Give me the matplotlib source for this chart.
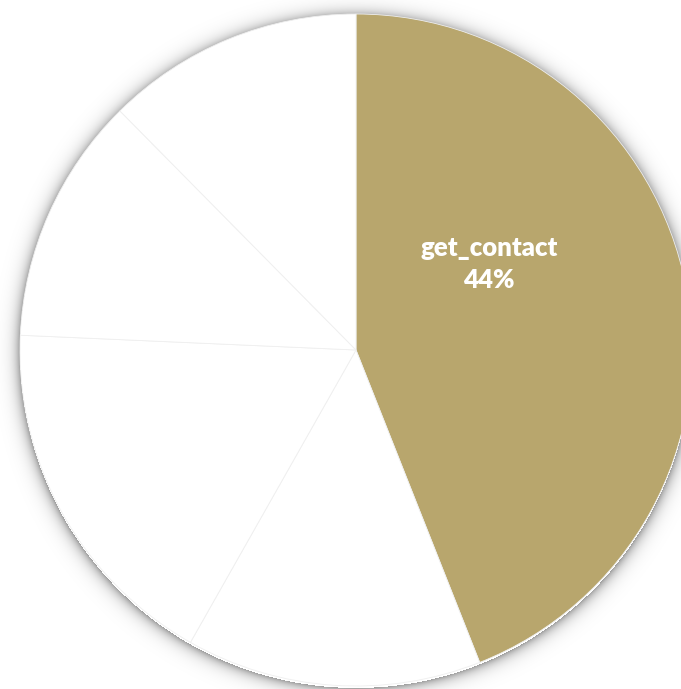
import numpy as np
import matplotlib.pyplot as plt

# share of each slice, clockwise from 12 o'clock
slices = ["get_contact", "part_2", "part_3", "part_4", "part_5"]
shares = [44.0, 14.2, 17.5, 11.9, 12.4]
colors = ["#B8A66D", "white", "white", "white", "white"]

W, H = 681, 689
cx, cy, r = 356, 339, 336

fig = plt.figure(figsize=(W / 100, H / 100), dpi=100)
ax = fig.add_axes([0, 0, 1, 1])
ax.set_xlim(0, W)
ax.set_ylim(0, H)
ax.axis("off")

# soft shadow round the pie
yy, xx = np.mgrid[0:H, 0:W]
d = np.hypot(xx + 0.5 - cx, yy + 0.5 - (cy - 2)) - r
alpha = np.where(d > 0, 0.38 * np.exp(-d / 6.0), 0)
shadow = np.zeros((H, W, 4))
shadow[..., 3] = alpha
ax.imshow(shadow, extent=(0, W, 0, H), origin="lower", zorder=0)

wedges, _ = ax.pie(shares, colors=colors, startangle=90, counterclock=False,
                   center=(cx, cy), radius=r, frame=True,
                   wedgeprops=dict(edgecolor="#EFEFEF", linewidth=0.6))
for w in wedges:
    w.set_zorder(1)
ax.set_xlim(0, W)
ax.set_ylim(0, H)
ax.set_aspect("equal")
ax.axis("off")

ax.text(cx + 133, cy + 86, f"{slices[0]}\n{shares[0]:.0f}%", color="white",
        fontsize=18.5, fontweight="heavy", family="Lato", ha="center", va="center",
        linespacing=1.45, zorder=3)

fig.savefig("out.png", dpi=100)
